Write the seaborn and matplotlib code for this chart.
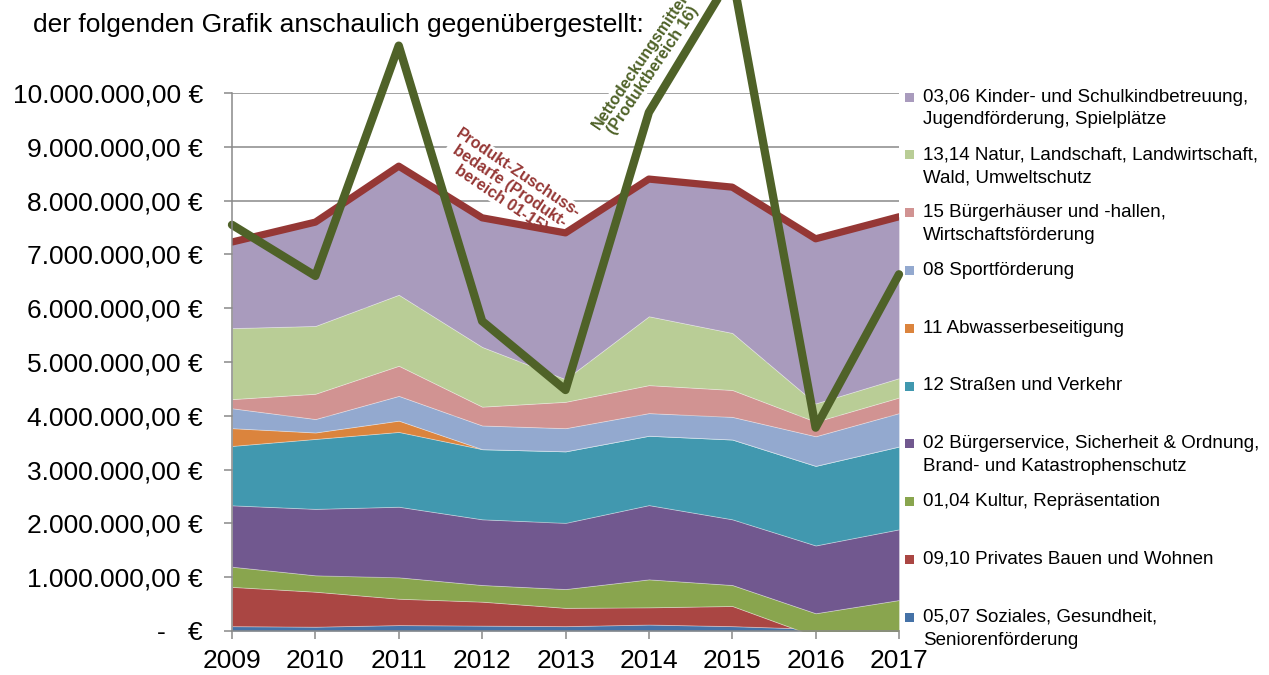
import matplotlib
matplotlib.use("Agg")
import matplotlib.pyplot as plt
from matplotlib.patches import Rectangle
from matplotlib.ticker import FuncFormatter, MultipleLocator
import numpy as np
import pandas as pd
import seaborn as sns

# ---------------- data (euro) ----------------
years = [2009, 2010, 2011, 2012, 2013, 2014, 2015, 2016, 2017]

soziales      = [0.09e6, 0.08e6, 0.11e6, 0.10e6, 0.09e6, 0.12e6, 0.09e6, 0.04e6, 0.02e6]
privates_bauen = [0.73e6, 0.65e6, 0.49e6, 0.445e6, 0.34e6, 0.32e6, 0.375e6, -0.14e6, -0.12e6]
kultur        = [0.375e6, 0.305e6, 0.398e6, 0.31e6, 0.35e6, 0.52e6, 0.39e6, 0.43e6, 0.676e6]
buergerservice = [1.141e6, 1.235e6, 1.312e6, 1.221e6, 1.23e6, 1.38e6, 1.221e6, 1.26e6, 1.314e6]
strassen      = [1.104e6, 1.30e6, 1.39e6, 1.304e6, 1.33e6, 1.29e6, 1.484e6, 1.48e6, 1.54e6]
abwasser      = [0.33e6, 0.12e6, 0.21e6, 0.0, 0.0, 0.0, 0.0, 0.0, 0.0]
sport         = [0.37e6, 0.25e6, 0.46e6, 0.44e6, 0.43e6, 0.42e6, 0.42e6, 0.55e6, 0.62e6]
buergerhaeuser = [0.17e6, 0.47e6, 0.56e6, 0.35e6, 0.49e6, 0.52e6, 0.50e6, 0.27e6, 0.29e6]
natur         = [1.32e6, 1.26e6, 1.32e6, 1.11e6, 0.42e6, 1.28e6, 1.06e6, 0.34e6, 0.36e6]
kinder        = [1.60e6, 1.93e6, 2.39e6, 2.40e6, 2.72e6, 2.55e6, 2.71e6, 3.06e6, 3.00e6]

zuschussbedarf = [7.23e6, 7.60e6, 8.64e6, 7.68e6, 7.40e6, 8.40e6, 8.25e6, 7.29e6, 7.70e6]
nettodeckung   = [7.55e6, 6.60e6, 10.88e6, 5.76e6, 4.48e6, 9.64e6, 12.2e6, 3.78e6, 6.63e6]

# stacking order bottom -> top
labels = [
    "05,07 Soziales, Gesundheit,\nSeniorenförderung",
    "09,10 Privates Bauen und Wohnen",
    "01,04 Kultur, Repräsentation",
    "02 Bürgerservice, Sicherheit & Ordnung,\nBrand- und Katastrophenschutz",
    "12 Straßen und Verkehr",
    "11 Abwasserbeseitigung",
    "08 Sportförderung",
    "15 Bürgerhäuser und -hallen,\nWirtschaftsförderung",
    "13,14 Natur, Landschaft, Landwirtschaft,\nWald, Umweltschutz",
    "03,06 Kinder- und Schulkindbetreuung,\nJugendförderung, Spielplätze",
]
series = [soziales, privates_bauen, kultur, buergerservice, strassen,
          abwasser, sport, buergerhaeuser, natur, kinder]
colors = ["#4572A7", "#AA4643", "#89A54E", "#71588F", "#4198AF",
          "#DB843D", "#93A9CF", "#D19392", "#B9CD96", "#A99BBD"]

title_text = "der folgenden Grafik anschaulich gegenübergestellt:"
red_label = "Produkt-Zuschuss-\nbedarfe (Produkt-\nbereich 01-15)"
green_label = "Nettodeckungsmittel\n(Produktbereich 16)"

# ---------------- style ----------------
sns.set_theme(style="white")
plt.rcParams["font.family"] = ["Liberation Sans", "DejaVu Sans"]

W, H = 1269, 675
fig = plt.figure(figsize=(W / 100, H / 100), dpi=100)
fig.patch.set_facecolor("white")
ax = fig.add_axes([232 / W, 1 - 631 / H, (899 - 232) / W, (631 - 93) / H])
ax.set_facecolor("white")

grid_col = "#898989"

# stacked areas
ax.stackplot(years, *series, colors=colors, linewidth=0.6,
             edgecolor=(1, 1, 1, 0.35), zorder=2)

# lines via seaborn
df = pd.DataFrame({"Jahr": years, "Zuschuss": zuschussbedarf, "Netto": nettodeckung})
sns.lineplot(data=df, x="Jahr", y="Zuschuss", ax=ax, color="#953735",
             linewidth=5.2, solid_capstyle="round", solid_joinstyle="round",
             zorder=4, legend=False)
sns.lineplot(data=df, x="Jahr", y="Netto", ax=ax, color="#4F6228",
             linewidth=6, solid_capstyle="round", solid_joinstyle="round",
             zorder=5, legend=False, clip_on=False)

ax.set_xlim(2009, 2017)
ax.set_ylim(0, 10e6)
ax.set_xlabel("")
ax.set_ylabel("")

def euro_fmt(v, pos):
    if abs(v) < 1:
        return "-   €"
    s = f"{v:,.2f}"
    s = s.replace(",", "X").replace(".", ",").replace("X", ".")
    return s + " €"

ax.yaxis.set_major_locator(MultipleLocator(1e6))
ax.yaxis.set_major_formatter(FuncFormatter(euro_fmt))
ax.set_xticks(years)
ax.set_xticklabels([str(y) for y in years])

ax.yaxis.grid(True, color=grid_col, linewidth=1.1, zorder=0)
ax.xaxis.grid(False)
ax.set_axisbelow(True)

for side in ["top", "right"]:
    ax.spines[side].set_visible(False)
for side in ["left", "bottom"]:
    ax.spines[side].set_color(grid_col)
    ax.spines[side].set_linewidth(1.1)
    ax.spines[side].set_zorder(6)

ax.tick_params(axis="y", which="major", direction="out", length=6, width=1.1,
               color=grid_col, labelsize=19, pad=15, labelcolor="black", left=True)
ax.tick_params(axis="x", which="major", direction="out", length=6, width=1.1,
               color=grid_col, labelsize=19, pad=7, labelcolor="black", bottom=True)

# annotations for the two lines (white box hides gridlines, sits below areas)
ax.text(2012.33, 8.27e6, red_label, rotation=-34, rotation_mode="anchor",
        ha="center", va="center", multialignment="center",
        fontsize=11.5, fontweight="bold", color="#953735", linespacing=1.05,
        zorder=1.5,
        bbox=dict(facecolor="white", edgecolor="none", pad=0.5))
ax.text(2013.97, 10.50e6, green_label, rotation=56, rotation_mode="anchor",
        ha="center", va="center", multialignment="center",
        fontsize=11.5, fontweight="bold", color="#4F6228", linespacing=1.05,
        zorder=1.5, clip_on=False,
        bbox=dict(facecolor="white", edgecolor="none", pad=0.5))

# heading text (paragraph line above the chart)
fig.text(33 / W, 1 - 32 / H, title_text, fontsize=19, color="black",
         ha="left", va="baseline")

# legend (top -> bottom = reverse stacking order)
leg_fs = 13.5
y0, dy, line_gap = 97.0, 57.8, 23.0
for i, (lab, col) in enumerate(zip(labels[::-1], colors[::-1])):
    yc = y0 + i * dy
    fig.add_artist(Rectangle((905 / W, 1 - (yc + 4.5) / H), 9 / W, 9 / H,
                             transform=fig.transFigure, facecolor=col,
                             edgecolor="none"))
    for j, line in enumerate(lab.split("\n")):
        fig.text(923 / W, 1 - (yc + j * line_gap) / H, line, fontsize=leg_fs,
                 color="black", ha="left", va="center")

fig.savefig("out.png", dpi=100)
